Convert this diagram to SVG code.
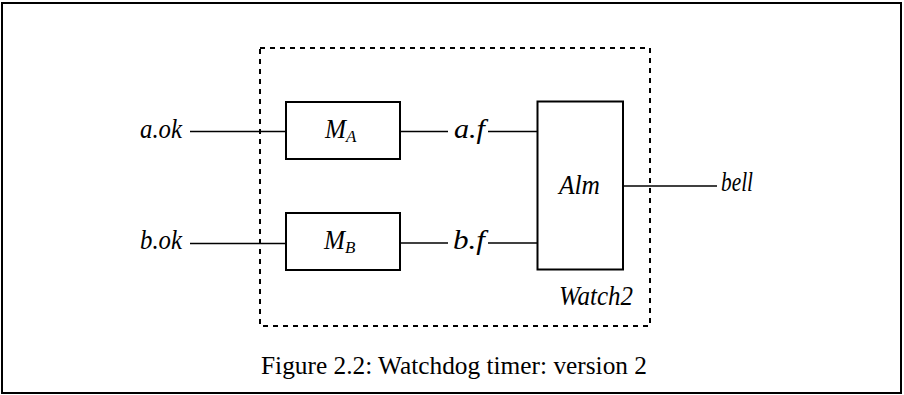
<svg xmlns="http://www.w3.org/2000/svg" width="904" height="395" viewBox="0 0 904 395">
  <style>
    .frame { fill: none; stroke: #000; stroke-width: 2; }
    .box { fill: #fff; stroke: #000; stroke-width: 2; }
    .dash { fill: none; stroke: #000; stroke-width: 2; stroke-dasharray: 5 5; }
    .wire { stroke: #000; stroke-width: 1.6; fill: none; }
    .lbl { font-family: "Liberation Serif", "Times New Roman", serif; font-style: italic; font-size: 27px; fill: #000; }
    .sub { font-size: 17px; }
    .cap { font-family: "Liberation Serif", "Times New Roman", serif; font-size: 25px; fill: #000; }
  </style>

  <rect width="904" height="395" fill="#fff"/>
  <!-- figure frame -->
  <rect class="frame" x="2" y="3" width="899" height="390"/>

  <!-- Watch2 component boundary -->
  <g id="watch2">
    <rect class="dash" x="260" y="48" width="390" height="278"/>
    <text class="lbl" x="559" y="305" textLength="74" lengthAdjust="spacingAndGlyphs">Watch2</text>
  </g>

  <!-- wires -->
  <g id="connectors">
    <line class="wire" x1="190" y1="131.5" x2="286" y2="131.5"/>
    <line class="wire" x1="190" y1="243.5" x2="286" y2="243.5"/>
    <line class="wire" x1="400" y1="131.5" x2="448" y2="131.5"/>
    <line class="wire" x1="488" y1="131.5" x2="538" y2="131.5"/>
    <line class="wire" x1="400" y1="243" x2="448" y2="243"/>
    <line class="wire" x1="488" y1="243" x2="538" y2="243"/>
    <line class="wire" x1="623" y1="186" x2="717" y2="186"/>
  </g>

  <!-- port labels -->
  <g id="port-a-ok"><text class="lbl" x="140" y="137.5" textLength="42" lengthAdjust="spacingAndGlyphs">a.ok</text></g>
  <g id="port-b-ok"><text class="lbl" x="140" y="249" textLength="42" lengthAdjust="spacingAndGlyphs">b.ok</text></g>
  <g id="sig-a-f"><text class="lbl" x="454" y="137.5" textLength="31" lengthAdjust="spacingAndGlyphs">a.f</text></g>
  <g id="sig-b-f"><text class="lbl" x="453" y="248.5" textLength="32" lengthAdjust="spacingAndGlyphs">b.f</text></g>
  <g id="port-bell"><text class="lbl" x="721" y="190.5" textLength="32" lengthAdjust="spacingAndGlyphs">bell</text></g>

  <!-- monitor A -->
  <g id="MA">
    <rect class="box" x="286" y="102" width="114" height="57"/>
    <text class="lbl" x="325" y="137.5"><tspan textLength="21" lengthAdjust="spacingAndGlyphs">M</tspan><tspan class="sub" dy="4">A</tspan></text>
  </g>

  <!-- monitor B -->
  <g id="MB">
    <rect class="box" x="286" y="213" width="114" height="57"/>
    <text class="lbl" x="324" y="249"><tspan textLength="21" lengthAdjust="spacingAndGlyphs">M</tspan><tspan class="sub" dy="4">B</tspan></text>
  </g>

  <!-- alarm -->
  <g id="Alm">
    <rect class="box" x="537.5" y="101.5" width="85.5" height="168"/>
    <text class="lbl" x="559" y="194" textLength="41" lengthAdjust="spacingAndGlyphs">Alm</text>
  </g>

  <!-- caption -->
  <text class="cap" x="261" y="374" textLength="386" lengthAdjust="spacingAndGlyphs">Figure 2.2: Watchdog timer: version 2</text>
</svg>
